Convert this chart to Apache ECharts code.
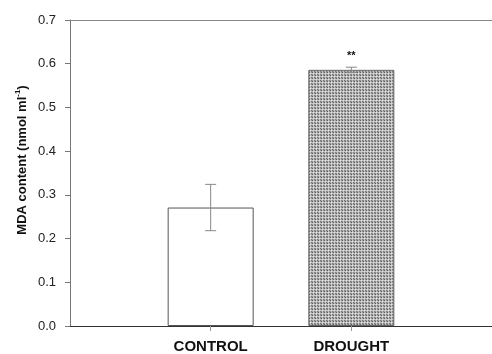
<!DOCTYPE html>
<html><head><meta charset="utf-8">
<script src="https://cdn.jsdelivr.net/npm/echarts@6/dist/echarts.min.js"></script>
<style>html,body{margin:0;padding:0;background:#fff}#c{width:492px;height:354px}</style>
</head><body><div id="c"></div>
<script>
const categories = ['CONTROL', 'DROUGHT'];
const means = [0.271, 0.586];
const errors = [0.053, 0.006];
const marks = ['', '**'];

function makePattern() {
  const c = document.createElement('canvas');
  c.width = 3; c.height = 3;
  const g = c.getContext('2d');
  const px = [
    ['#5e5e5e', '#c4c4c4', '#9a9a9a'],
    ['#c4c4c4', '#e2e2e2', '#c4c4c4'],
    ['#9a9a9a', '#c4c4c4', '#7a7a7a']
  ];
  for (let r = 0; r < 3; r++) for (let k = 0; k < 3; k++) { g.fillStyle = px[r][k]; g.fillRect(k, r, 1, 1); }
  return c;
}
const pattern = makePattern();
const fills = [{ color: '#ffffff', borderColor: '#555' }, { color: { image: pattern, repeat: 'repeat' }, borderColor: '#666' }];

const chart = echarts.init(document.getElementById('c'));
chart.setOption({
  animation: false,
  grid: { left: 70, right: -5, top: 20, bottom: 26 },
  xAxis: [{
    type: 'value', min: 0, max: categories.length + 1, interval: 1,
    splitLine: { show: false },
    axisLine: { lineStyle: { color: '#333', width: 1 } },
    axisTick: { show: true, length: 5, lineStyle: { color: '#999' }, customValues: categories.map((c, i) => i + 1) },
    axisLabel: {
      customValues: categories.map((c, i) => i + 1),
      formatter: v => categories[v - 1] || '',
      fontFamily: 'Liberation Sans', fontWeight: 'bold', fontSize: 15, color: '#111', margin: 13
    }
  }, {
    type: 'value', position: 'top', min: 0, max: categories.length + 1,
    splitLine: { show: false },
    axisLine: { show: true, lineStyle: { color: '#888' } },
    axisTick: { show: false }, axisLabel: { show: false }
  }],
  yAxis: {
    type: 'value', min: 0, max: 0.7, interval: 0.1,
    splitLine: { show: false },
    axisLine: { show: true, lineStyle: { color: '#777' } },
    axisTick: { show: true, length: 5, lineStyle: { color: '#777' } },
    axisLabel: { formatter: v => v.toFixed(1), fontFamily: 'Liberation Sans', fontSize: 13, color: '#222', margin: 14 }
  },
  graphic: [{
    type: 'text', x: 22, y: 160, rotation: Math.PI / 2,
    style: {
      text: '{a|MDA content (nmol ml}{s|-1}{a|)}',
      align: 'center', verticalAlign: 'middle',
      rich: {
        a: { fontFamily: 'Liberation Sans', fontWeight: 'bold', fontSize: 13, fill: '#111', lineHeight: 16 },
        s: { fontFamily: 'Liberation Sans', fontWeight: 'bold', fontSize: 8, fill: '#111', lineHeight: 16, verticalAlign: 'top' }
      }
    }
  }],
  series: [{
    type: 'bar', barWidth: 86,
    data: means.map((v, i) => ({ value: [i + 1, v], itemStyle: { color: fills[i].color, borderColor: fills[i].borderColor, borderWidth: 1 } })),
    z: 2
  }, {
    type: 'custom', z: 3,
    encode: { x: 0, y: [1, 2] },
    data: means.map((v, i) => [i + 1, v - errors[i], v + errors[i]]),
    renderItem: function (params, api) {
      const x = api.value(0);
      const lo = api.coord([x, api.value(1)]);
      const hi = api.coord([x, api.value(2)]);
      const hw = 5.5;
      const st = { stroke: '#888', lineWidth: 1 };
      return {
        type: 'group', children: [
          { type: 'line', shape: { x1: lo[0], y1: lo[1], x2: hi[0], y2: hi[1] }, style: st },
          { type: 'line', shape: { x1: hi[0] - hw, y1: hi[1], x2: hi[0] + hw, y2: hi[1] }, style: st },
          { type: 'line', shape: { x1: lo[0] - hw, y1: lo[1], x2: lo[0] + hw, y2: lo[1] }, style: st },
          { type: 'text', style: { text: marks[params.dataIndex], x: hi[0], y: hi[1] - 11, align: 'center', verticalAlign: 'middle', fontFamily: 'Liberation Sans', fontWeight: 'bold', fontSize: 11, fill: '#111' } }
        ]
      };
    }
  }]
});
</script></body></html>
